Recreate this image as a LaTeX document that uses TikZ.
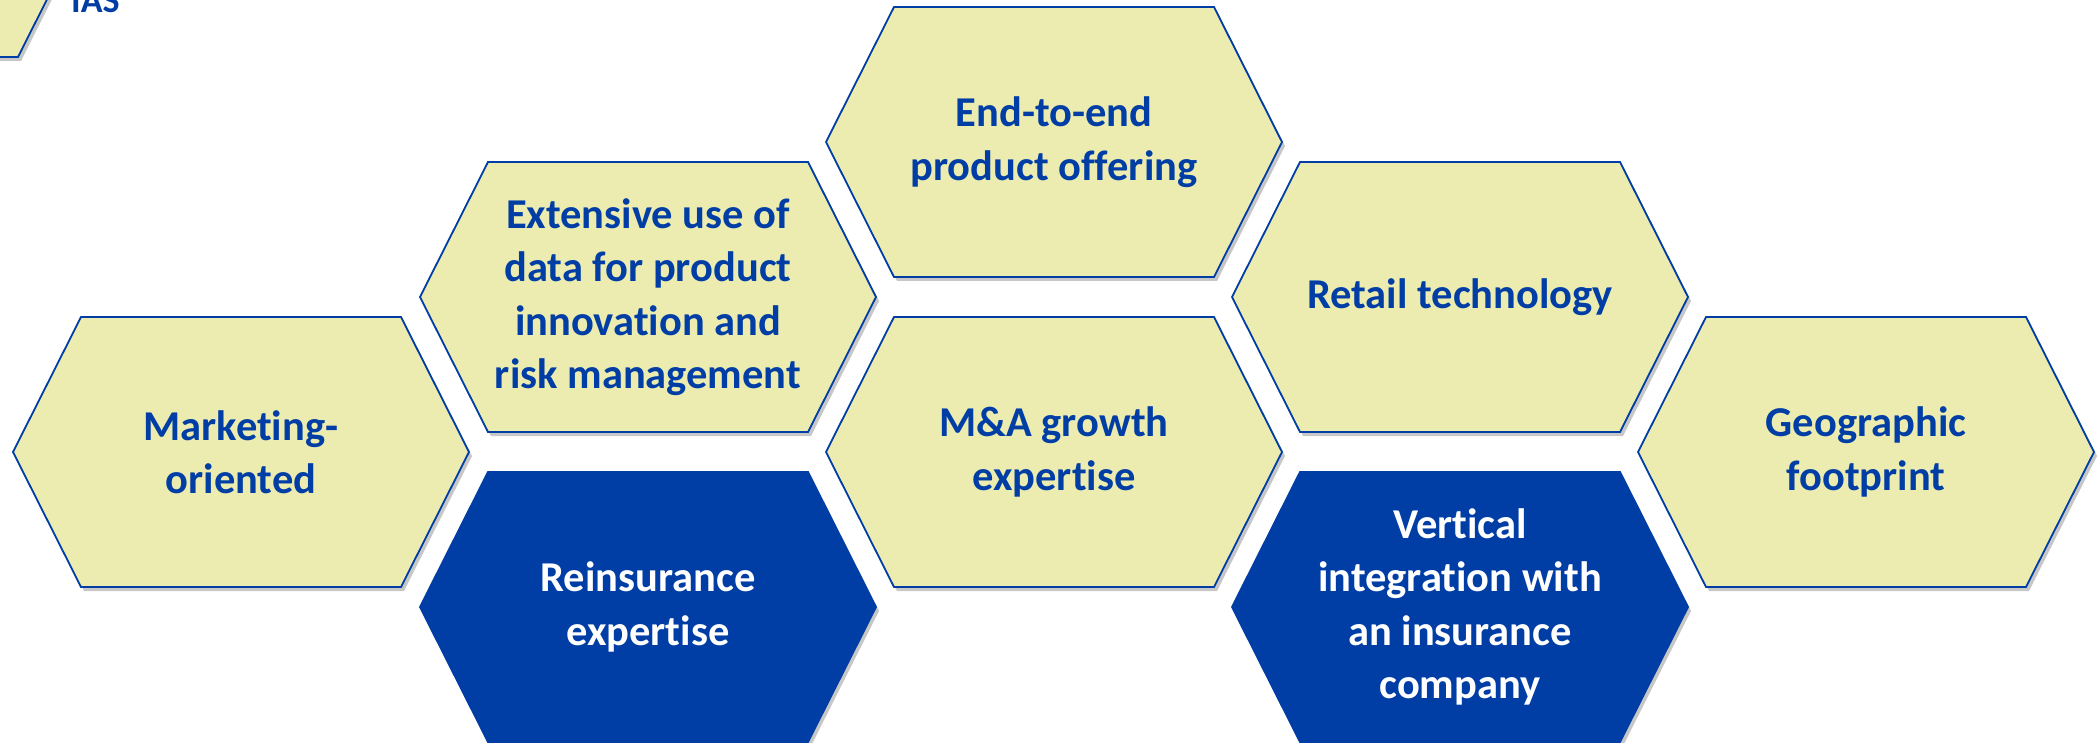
\documentclass[tikz,border=0pt]{standalone}
\usepackage{fontspec}
\setmainfont{Carlito}[Ligatures=NoCommon]
\usetikzlibrary{shadows}
\definecolor{hexyellow}{RGB}{236,236,176}
\definecolor{hexblue}{RGB}{0,62,165}
\tikzset{
  hexshadow/.style={drop shadow={shadow xshift=3pt, shadow yshift=-4pt, opacity=0.22, fill=black}},
  hexlight/.style={fill=hexyellow, draw=hexblue, line width=1.8pt, line join=miter, hexshadow},
  hexdark/.style={fill=hexblue, draw=hexblue, line width=1.8pt, line join=miter, hexshadow},
  lighttext/.style={text=hexblue, font=\bfseries\fontsize{42.5}{53.5}\selectfont, align=center, inner sep=0pt},
  darktext/.style={text=white, font=\bfseries\fontsize{42.5}{53.5}\selectfont, align=center, inner sep=0pt},
}
\newcommand\hexcell[6]{%
  \path[#4] ({#2-228},#3) -- ({#2-160},{#3-135}) -- ({#2+160},{#3-135}) -- ({#2+228},#3) -- ({#2+160},{#3+135}) -- ({#2-160},{#3+135}) -- cycle;
  \node[#5] (#1) at (#2,#3) {#6};
}
\begin{document}
\begin{tikzpicture}[x=1pt,y=-1pt]
\useasboundingbox (0,0) rectangle (2099,743);
\hexcell{ias}{-142}{-78}{hexlight}{lighttext}{}
\node[text=hexblue, font=\bfseries\fontsize{36}{44}\selectfont, anchor=base west, inner sep=0pt] (iaslabel) at (71,13) {IAS};
\hexcell{mkt}{241}{452}{hexlight}{lighttext}{Marketing-\\oriented}
\hexcell{ext}{648}{297}{hexlight}{lighttext}{Extensive use of\\data for product\\innovation and\\risk management}
\hexcell{rei}{648}{607}{hexdark}{darktext}{Reinsurance\\expertise}
\hexcell{e2e}{1054}{142}{hexlight}{lighttext}{End-to-end\\product offering}
\hexcell{mna}{1054}{452}{hexlight}{lighttext}{M\&A growth\\expertise}
\hexcell{ret}{1460}{297}{hexlight}{lighttext}{Retail technology}
\hexcell{ver}{1460}{607}{hexdark}{darktext}{Vertical\\integration with\\an insurance\\company}
\hexcell{geo}{1866}{452}{hexlight}{lighttext}{Geographic\\footprint}
\end{tikzpicture}
\end{document}
